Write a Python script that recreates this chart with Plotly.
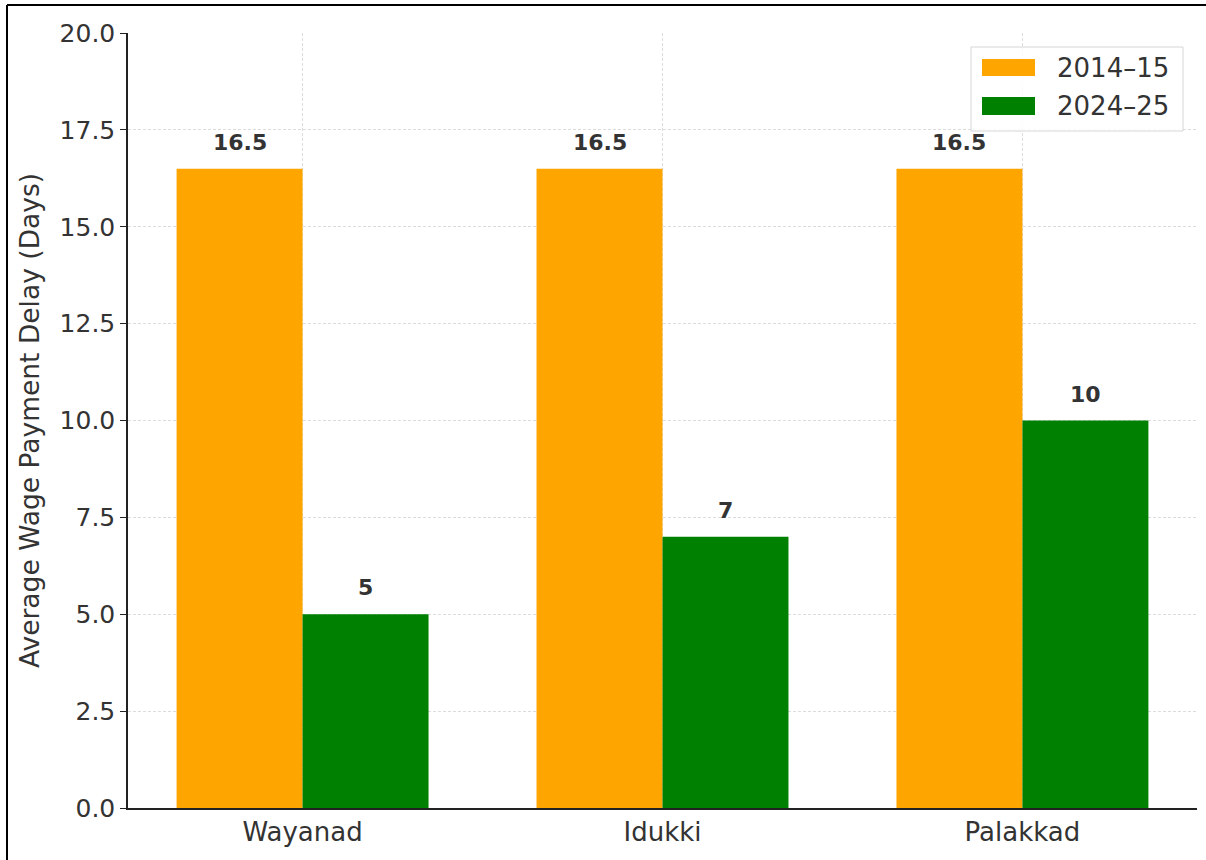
import plotly.graph_objects as go

districts = ["Wayanad", "Idukki", "Palakkad"]
series_names = ["2014–15", "2024–25"]
delay_2014_15 = [16.5, 16.5, 16.5]
delay_2024_25 = [5, 7, 10]
value_labels_2014_15 = ["16.5", "16.5", "16.5"]
value_labels_2024_25 = ["5", "7", "10"]
colors = ["#FFA500", "#008000"]
y_ticks = [0, 2.5, 5, 7.5, 10, 12.5, 15, 17.5, 20]
y_tick_text = ["0.0", "2.5", "5.0", "7.5", "10.0", "12.5", "15.0", "17.5", "20.0"]

W, H = 1206, 860
ML, MR, MT, MB = 128, 9, 33, 52
PW, PH = W - ML - MR, H - MT - MB
FONT = "DejaVu Sans"
TXT = "#333333"


def px_x(px):
    return (px - ML) / PW


def px_y(py):
    return (H - MB - py) / PH


fig = go.Figure()
all_values = [delay_2014_15, delay_2024_25]
all_labels = [value_labels_2014_15, value_labels_2024_25]
for i, (name, vals) in enumerate(zip(series_names, all_values)):
    fig.add_trace(go.Bar(
        x=districts, y=vals, name=name,
        marker=dict(color=colors[i], line=dict(width=0)),
        offsetgroup=str(i), showlegend=False,
    ))

# value labels above bars
for i, (vals, labs) in enumerate(zip(all_values, all_labels)):
    offset = -0.175 if i == 0 else 0.175
    for j, (v, lab) in enumerate(zip(vals, labs)):
        fig.add_annotation(
            x=j + offset, y=v, xref="x", yref="y", text=f"<b>{lab}</b>",
            showarrow=False, yanchor="bottom", yshift=12,
            font=dict(family=FONT, size=22, color=TXT),
        )

fig.update_layout(
    width=W, height=H,
    margin=dict(l=ML, r=MR, t=MT, b=MB, autoexpand=False),
    paper_bgcolor="white", plot_bgcolor="white",
    barmode="group", bargap=0.3, bargroupgap=0,
    font=dict(family=FONT, size=24, color=TXT),
    showlegend=False,
)
fig.update_xaxes(
    type="category", range=[-0.485, 2.485],
    showline=True, linecolor="#222222", linewidth=1.5,
    showgrid=True, gridcolor="#dcdcdc", griddash="3px,2px", gridwidth=1,
    ticks="", tickfont=dict(family=FONT, size=26, color=TXT),
    zeroline=False,
)
fig.update_yaxes(
    range=[0, 20], tickvals=y_ticks, ticktext=y_tick_text,
    showline=True, linecolor="#222222", linewidth=1.5,
    showgrid=True, gridcolor="#dcdcdc", griddash="3px,2px", gridwidth=1,
    ticks="outside", ticklen=6, tickwidth=1.2, tickcolor="#222222",
    tickfont=dict(family=FONT, size=25, color=TXT),
    zeroline=False,
    title=dict(text="Average Wage Payment Delay (Days)", standoff=12,
               font=dict(family=FONT, size=26.5, color=TXT)),
)

# custom legend
fig.add_shape(type="rect", xref="paper", yref="paper",
              x0=px_x(971), x1=px_x(1183), y0=px_y(131), y1=px_y(47),
              line=dict(color="#d6d6d6", width=1), fillcolor="rgba(255,255,255,0.85)")
legend_rows = [(59, 76), (97, 115)]
for i, name in enumerate(series_names):
    y0p, y1p = legend_rows[i]
    fig.add_shape(type="rect", xref="paper", yref="paper",
                  x0=px_x(982), x1=px_x(1035), y0=px_y(y1p), y1=px_y(y0p),
                  line=dict(width=0), fillcolor=colors[i])
    fig.add_annotation(xref="paper", yref="paper", x=px_x(1055), y=px_y((y0p + y1p) / 2),
                       text=name, showarrow=False, xanchor="left", yanchor="middle",
                       font=dict(family=FONT, size=26, color=TXT))

# outer frame (top and left edges)
fig.add_shape(type="line", xref="paper", yref="paper",
              x0=px_x(7), x1=px_x(W + 5), y0=px_y(5), y1=px_y(5),
              line=dict(color="black", width=2))
fig.add_shape(type="line", xref="paper", yref="paper",
              x0=px_x(7), x1=px_x(7), y0=px_y(5), y1=px_y(H + 5),
              line=dict(color="black", width=2))

fig.write_html("out.html")
